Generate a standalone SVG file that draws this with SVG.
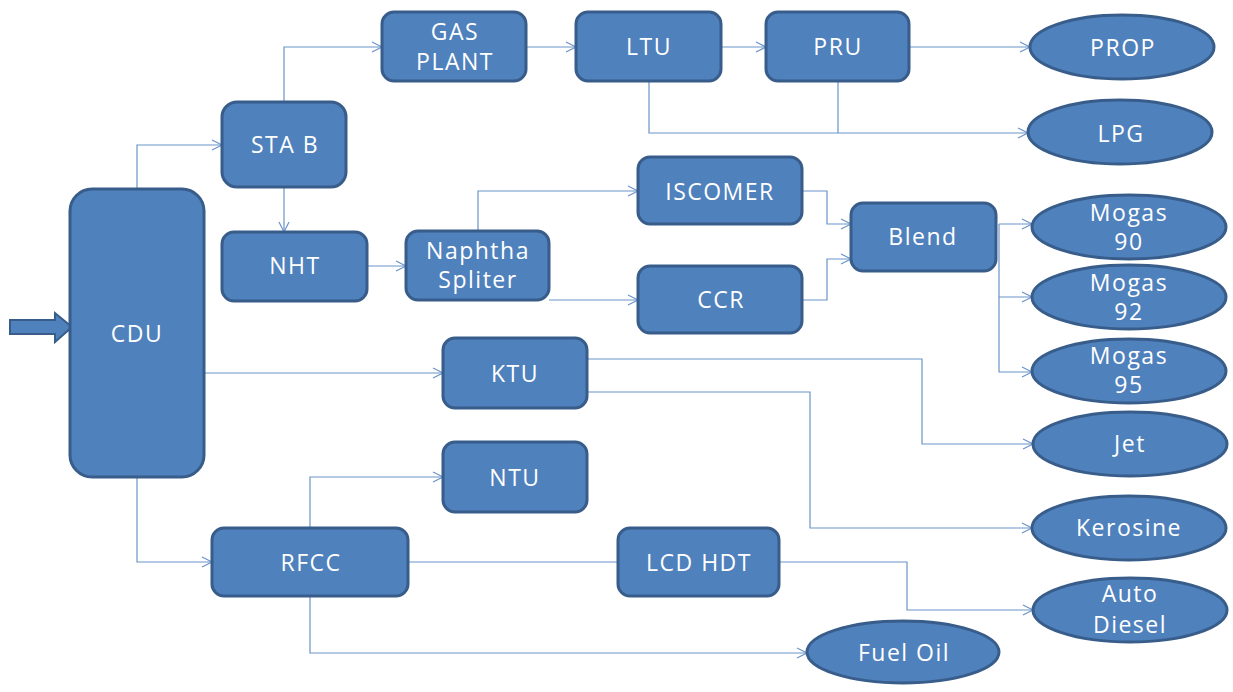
<svg xmlns="http://www.w3.org/2000/svg" width="1233" height="692" viewBox="0 0 1233 692">
<defs>
<style>
.n{fill:#4F81BD;stroke:#385D8A;stroke-width:3}
.t{fill:#FFFFFF;font-family:"Open Sans","Liberation Sans",sans-serif;font-size:23px;letter-spacing:1.5px;text-anchor:middle}
.c{fill:none;stroke:#6A93C9;stroke-width:1.2}
.a{marker-end:url(#arr)}
</style>
<marker id="arr" markerUnits="userSpaceOnUse" markerWidth="12" markerHeight="12" refX="10" refY="5" orient="auto" overflow="visible">
<path d="M0,0 L10,5 L0,10" fill="none" stroke="#6A93C9" stroke-width="1.2"/>
</marker>
</defs>
<rect width="1233" height="692" fill="#FFFFFF"/>

<g id="connectors">
<path class="c a" d="M137,189 V145 H222"/>
<path class="c a" d="M284,102 V47 H382"/>
<path class="c a" d="M284,187 V232"/>
<path class="c a" d="M526,47 H576"/>
<path class="c a" d="M721,47 H766"/>
<path class="c a" d="M909,47 H1030"/>
<path class="c a" d="M649,81 V133 H1028"/>
<path class="c" d="M838,81 V133"/>
<path class="c a" d="M367,266 H406"/>
<path class="c a" d="M478,231 V191 H638"/>
<path class="c a" d="M549,300 H638"/>
<path class="c a" d="M802,191 H827 V224 H851"/>
<path class="c a" d="M802,300 H827 V259 H851"/>
<path class="c a" d="M999,224 H1032"/>
<path class="c a" d="M999,224 V297 H1032"/>
<path class="c a" d="M999,297 V372 H1032"/>
<path class="c a" d="M204,373 H443"/>
<path class="c a" d="M587,359 H922 V444 H1033"/>
<path class="c a" d="M587,392 H810 V528 H1032"/>
<path class="c a" d="M137,477 V562 H212"/>
<path class="c a" d="M310,528 V477 H443"/>
<path class="c" d="M408,562 H618"/>
<path class="c a" d="M779,562 H907 V610 H1033"/>
<path class="c a" d="M310,596 V653 H807"/>
</g>

<g id="input">
<path d="M10,320 H55 V313 L72,327 L55,342 V334 H10 Z" fill="#4F81BD" stroke="#385D8A" stroke-width="2"/>
</g>

<g id="CDU"><rect class="n" x="70" y="189" width="134" height="288" rx="22"/><text class="t" x="137" y="342">CDU</text></g>
<g id="STAB"><rect class="n" x="222" y="102" width="124" height="85" rx="15"/><text class="t" x="285" y="153">STA B</text></g>
<g id="GASPLANT"><rect class="n" x="382" y="12" width="144" height="69" rx="12"/><text class="t" x="455" y="40">GAS</text><text class="t" x="455" y="70">PLANT</text></g>
<g id="LTU"><rect class="n" x="576" y="12" width="145" height="69" rx="12"/><text class="t" x="649" y="55">LTU</text></g>
<g id="PRU"><rect class="n" x="766" y="12" width="143" height="69" rx="12"/><text class="t" x="838" y="55">PRU</text></g>
<g id="PROP"><ellipse class="n" cx="1122" cy="47" rx="92" ry="32"/><text class="t" x="1123" y="56">PROP</text></g>
<g id="LPG"><ellipse class="n" cx="1120" cy="132" rx="92" ry="32"/><text class="t" x="1121" y="142">LPG</text></g>
<g id="NHT"><rect class="n" x="222" y="232" width="145" height="69" rx="12"/><text class="t" x="295" y="274">NHT</text></g>
<g id="NaphthaSpliter"><rect class="n" x="406" y="231" width="143" height="69" rx="12"/><text class="t" x="478" y="259">Naphtha</text><text class="t" x="478" y="288">Spliter</text></g>
<g id="ISCOMER"><rect class="n" x="638" y="157" width="164" height="67" rx="12"/><text class="t" x="720" y="200">ISCOMER</text></g>
<g id="CCR"><rect class="n" x="638" y="266" width="164" height="67" rx="12"/><text class="t" x="721" y="308">CCR</text></g>
<g id="Blend"><rect class="n" x="851" y="203" width="145" height="68" rx="12"/><text class="t" x="923" y="245">Blend</text></g>
<g id="Mogas90"><ellipse class="n" cx="1129" cy="227" rx="97" ry="32"/><text class="t" x="1129" y="221">Mogas</text><text class="t" x="1129" y="250">90</text></g>
<g id="Mogas92"><ellipse class="n" cx="1129" cy="297" rx="97" ry="32"/><text class="t" x="1129" y="291">Mogas</text><text class="t" x="1129" y="320">92</text></g>
<g id="Mogas95"><ellipse class="n" cx="1129" cy="371" rx="97" ry="32"/><text class="t" x="1129" y="364">Mogas</text><text class="t" x="1129" y="393">95</text></g>
<g id="KTU"><rect class="n" x="443" y="338" width="144" height="70" rx="12"/><text class="t" x="515" y="382">KTU</text></g>
<g id="NTU"><rect class="n" x="443" y="442" width="144" height="70" rx="12"/><text class="t" x="515" y="486">NTU</text></g>
<g id="Jet"><ellipse class="n" cx="1130" cy="444" rx="97" ry="32"/><text class="t" x="1130" y="452">Jet</text></g>
<g id="Kerosine"><ellipse class="n" cx="1129" cy="528" rx="97" ry="32"/><text class="t" x="1129" y="536">Kerosine</text></g>
<g id="RFCC"><rect class="n" x="212" y="528" width="196" height="68" rx="12"/><text class="t" x="311" y="571">RFCC</text></g>
<g id="LCDHDT"><rect class="n" x="618" y="528" width="161" height="68" rx="12"/><text class="t" x="699" y="571">LCD HDT</text></g>
<g id="AutoDiesel"><ellipse class="n" cx="1130" cy="610" rx="97" ry="32"/><text class="t" x="1130" y="602">Auto</text><text class="t" x="1130" y="633">Diesel</text></g>
<g id="FuelOil"><ellipse class="n" cx="903" cy="652" rx="96" ry="31"/><text class="t" x="904" y="661">Fuel Oil</text></g>
</svg>
